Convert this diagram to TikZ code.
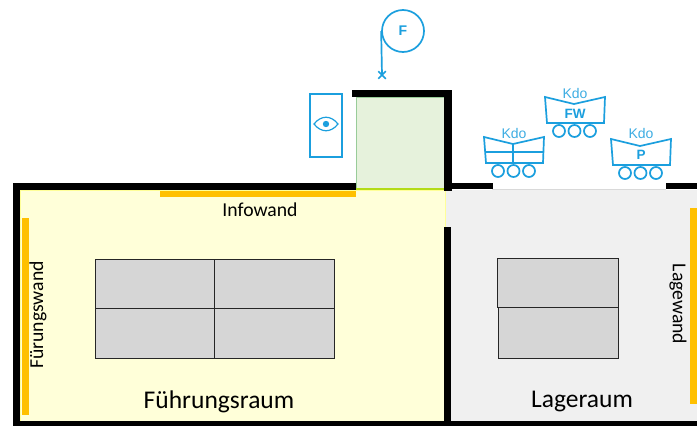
\documentclass[tikz,border=0pt]{standalone}
\usepackage{fontspec}
\setmainfont{Carlito}
\newfontfamily\kdofont{Liberation Sans}
\usetikzlibrary{shapes.misc}
\definecolor{kdoblue}{HTML}{1B9FDE}
\definecolor{wandorange}{HTML}{FFC000}
\definecolor{raumyellow}{HTML}{FFFFD9}
\definecolor{raumgreen}{HTML}{E6F2DC}
\definecolor{raumgrey}{HTML}{F0F0F0}
\definecolor{tischgrey}{HTML}{D6D6D6}
\begin{document}
\begin{tikzpicture}[x=1pt,y=-1pt]
    \tikzstyle{wall}=[fill=black]
    \tikzstyle{wand}=[fill=wandorange]
    \tikzstyle{tisch}=[draw=black!85, fill=tischgrey, line width=1.3pt]
    \tikzstyle{blue}=[draw=kdoblue, line width=1.7pt]
    \tikzstyle{kdo}=[text=kdoblue!85, inner sep=0pt, font=\kdofont\fontsize{14}{14}\selectfont]
    \tikzstyle{kdobold}=[text=kdoblue, inner sep=0pt, font=\kdofont\bfseries\fontsize{13.5}{13.5}\selectfont]
    \tikzstyle{wandtext}=[inner sep=0pt, font=\fontsize{19.7}{19.7}\selectfont]
    \tikzstyle{raumtext}=[inner sep=0pt, font=\fontsize{25.5}{25.5}\selectfont]
    \useasboundingbox (0,0) rectangle (697,426);
    \fill[white] (0,0) rectangle (697,426);
    % rooms
    \fill[raumgrey] (445,190) rectangle (697,422);
    \draw[raumyellow!70!yellow, fill=raumyellow, line width=0.8pt] (20,190) rectangle (445,422);
    \draw[green!50!black!40, fill=raumgreen, line width=0.8pt] (356,97) rectangle (445,188);
    \draw[yellow!70!green, line width=1.5pt] (356,189) -- (445,189);
    \draw[black!15, line width=0.8pt] (492,189.5) -- (666,189.5);
    % walls
    \fill[wall] (13,183) rectangle (356,190);
    \fill[wall] (13,183) rectangle (20,426);
    \fill[wall] (13,421) rectangle (697,426);
    \fill[wall] (352,90) rectangle (452,97);
    \fill[wall] (444,90) rectangle (452,191);
    \fill[wall] (452,183) rectangle (493,189);
    \fill[wall] (666,183) rectangle (697,189);
    \fill[wall] (444,227) rectangle (451,426);
    % orange walls
    \fill[wand] (160,191) rectangle (356,197);
    \fill[wand] (22,218) rectangle (29,415);
    \fill[wand] (690,208) rectangle (697,404);
    % tables
    \node[tisch, minimum width=119pt, minimum height=49pt, inner sep=0pt, anchor=north west] (T1) at (95,259) {};
    \node[tisch, minimum width=120pt, minimum height=49pt, inner sep=0pt, anchor=north west] (T2) at (214,259) {};
    \node[tisch, minimum width=119pt, minimum height=50pt, inner sep=0pt, anchor=north west] (T3) at (95,308) {};
    \node[tisch, minimum width=120pt, minimum height=50pt, inner sep=0pt, anchor=north west] (T4) at (214,308) {};
    \node[tisch, minimum width=121pt, minimum height=49pt, inner sep=0pt, anchor=north west] (T5) at (497,258) {};
    \node[tisch, minimum width=120pt, minimum height=51pt, inner sep=0pt, anchor=north west] (T6) at (498,307) {};
    % labels
    \node[wandtext] (Infowand) at (260,210) {Infowand};
    \node[wandtext, rotate=90] (Fuehrungswand) at (38,315) {Fürungswand};
    \node[wandtext, rotate=-90] (Lagewand) at (678,304) {Lagewand};
    \node[raumtext] (Fuehrungsraum) at (219,402) {Führungsraum};
    \node[raumtext] (Lageraum) at (582,402) {Lageraum};
    % F and post
    \node[blue, circle, minimum size=42pt, inner sep=0pt, text=kdoblue, font=\kdofont\bfseries\fontsize{14}{14}\selectfont] (F) at (403,31) {F};
    \node[cross out, draw=kdoblue, line width=1.5pt, minimum size=6pt, inner sep=0pt] (Fx) at (382,75) {};
    \draw[blue] (F.west) -- (Fx.center);
    % eye
    \node[blue, minimum width=32pt, minimum height=63pt, inner sep=0pt] (Eye) at (326,125.5) {};
    \draw[blue, line width=1.2pt] (314,124) .. controls (321,115) and (331,115) .. (338,124) .. controls (331,133) and (321,133) .. (314,124) -- cycle;
    \fill[kdoblue] (326,124) circle (3.2);
    % vehicles
    \foreach \name/\dx/\dy in {A/0/0, B/61/-40, C/127/2} {
        \begin{scope}[xshift=\dx pt, yshift=-\dy pt]
            \draw[blue] (484,137) -- (513,144) -- (544,137) -- (543,163) -- (486,163) -- cycle;
            \foreach \wx in {498,513.5,529} {
                \draw[blue] (\wx,171) circle (6);
            }
        \end{scope}
    }
    \draw[blue] (485,152) -- (543.5,152);
    \draw[blue] (513,144) -- (513,163);
    \node[kdo] (KdoA) at (514,133) {Kdo};
    \node[kdo] (KdoB) at (575,93) {Kdo};
    \node[kdo] (KdoC) at (641,133) {Kdo};
    \node[kdobold] (FW) at (575,114) {FW};
    \node[kdobold] (P) at (641,155) {P};
\end{tikzpicture}
\end{document}
